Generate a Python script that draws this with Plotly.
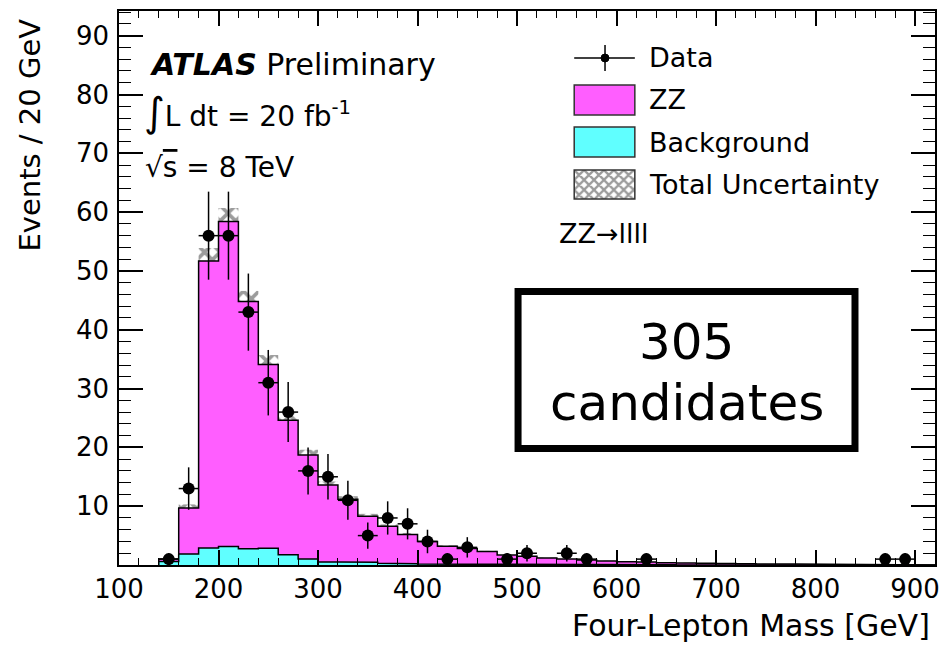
import numpy as np
import plotly.graph_objects as go

# ---------------------------------------------------------------- data
# four-lepton mass histogram, 20 GeV bins from 140 to 920 GeV
bin_low = [140, 160, 180, 200, 220, 240, 260, 280, 300, 320, 340, 360, 380,
           400, 420, 440, 460, 480, 500, 520, 540, 560, 580, 600, 620, 640,
           660, 680, 700, 720, 740, 760, 780, 800, 820, 840, 860, 880, 900]
bin_width = 20

zz_expected = [0.4, 7.85, 48.8, 55.25, 42.05, 31.25, 22.85, 17.7, 13.1, 10.7,
               7.85, 6.3, 5.0, 3.85, 3.08, 2.7, 2.22, 1.63, 1.44, 1.15, 0.95,
               0.81, 0.66, 0.52, 0.47, 0.37, 0.33, 0.28, 0.23, 0.2, 0.17, 0.15,
               0.13, 0.11, 0.09, 0.08, 0.07, 0.06, 0.05]
bkg_expected = [0.6, 1.85, 2.9, 3.15, 2.75, 2.85, 1.75, 1.0, 0.5, 0.5, 0.45,
                0.3, 0.2, 0.15, 0.12, 0.1, 0.08, 0.07, 0.06, 0.05, 0.05, 0.04,
                0.04, 0.03, 0.03, 0.03, 0.02, 0.02, 0.02, 0.02, 0.02, 0.01,
                0.01, 0.01, 0.01, 0.01, 0.01, 0.01, 0.01]
total_unc = [0.15, 0.6, 2.2, 2.3, 1.8, 1.6, 1.3, 0.9, 0.6, 0.5, 0.4, 0.3, 0.25,
             0.2, 0.15, 0.13, 0.11, 0.09, 0.08, 0.06, 0.05, 0.05, 0.04, 0.03,
             0.03, 0.03, 0.02, 0.02, 0.02, 0.02, 0.01, 0.01, 0.01, 0.01, 0.01,
             0.01, 0.01, 0.01, 0.01]

data_mass = [150, 170, 190, 210, 230, 250, 270, 290, 310, 330, 350, 370, 390,
             410, 430, 450, 490, 510, 550, 570, 630, 870, 890]
data_counts = [1, 13, 56, 56, 43, 31, 26, 16, 15, 11, 5, 8, 7, 4, 1, 3, 1, 2,
               2, 1, 1, 1, 1]

x_ticks = [100, 200, 300, 400, 500, 600, 700, 800, 900]
y_ticks = [0, 10, 20, 30, 40, 50, 60, 70, 80, 90]
y_labelled = [10, 20, 30, 40, 50, 60, 70, 80, 90]

# ---------------------------------------------------------------- style
FONT = "DejaVu Sans"
MAGENTA = "#ff5eff"
CYAN = "#60ffff"
HATCH = "#383838"
W, H = 947, 646
L, R, T, B = 119, 940, 11, 565   # frame in pixels


def px(x):
    return (x - L) / (R - L)


def py(y):
    return (B - y) / (B - T)


def stairs(lows, width, values):
    xs, ys = [lows[0]], [0.0]
    for lo, v in zip(lows, values):
        xs += [lo, lo + width]
        ys += [v, v]
    xs.append(lows[-1] + width)
    ys.append(0.0)
    return xs, ys


zz = np.array(zz_expected)
bkg = np.array(bkg_expected)
total = zz + bkg
unc = np.array(total_unc)
centers = np.array(bin_low) + bin_width / 2

fig = go.Figure()

# stacked expectation: ZZ on top of background
sx, sy = stairs(bin_low, bin_width, total)
fig.add_trace(go.Scatter(x=sx, y=sy, mode="lines", fill="tozeroy",
                         fillcolor=MAGENTA, line=dict(color="black", width=1.5),
                         hoverinfo="skip", showlegend=False))
bx, by = stairs(bin_low, bin_width, bkg)
fig.add_trace(go.Scatter(x=bx, y=by, mode="lines", fill="tozeroy",
                         fillcolor=CYAN, line=dict(color="black", width=1.5),
                         hoverinfo="skip", showlegend=False))

# total uncertainty band
fig.add_trace(go.Bar(x=centers, y=2 * unc, base=total - unc, width=bin_width,
                     marker=dict(color="rgba(0,0,0,0)", line=dict(width=0),
                                 pattern=dict(shape="x", fgcolor=HATCH,
                                              bgcolor="rgba(0,0,0,0)",
                                              size=11, solidity=0.55)),
                     hoverinfo="skip", showlegend=False))

# data points with Poisson errors
counts = np.array(data_counts, dtype=float)
fig.add_trace(go.Scatter(x=data_mass, y=counts, mode="markers",
                         marker=dict(color="black", size=12),
                         error_y=dict(type="data", array=np.sqrt(counts),
                                      color="black", thickness=1.5, width=0),
                         error_x=dict(type="constant", value=bin_width / 2,
                                      color="black", thickness=1.5, width=0),
                         showlegend=False))

# hatch swatch for the legend entry, on its own small axes
fig.add_trace(go.Bar(x=[0], y=[1], width=1, xaxis="x2", yaxis="y2",
                     marker=dict(color="rgba(0,0,0,0)", line=dict(width=0),
                                 pattern=dict(shape="x", fgcolor=HATCH,
                                              bgcolor="rgba(0,0,0,0)",
                                              size=7, solidity=0.55)),
                     hoverinfo="skip", showlegend=False))

axis_common = dict(showline=True, linecolor="black", linewidth=2,
                   mirror="allticks", ticks="inside", tickcolor="black",
                   showgrid=False, zeroline=False,
                   tickfont=dict(family=FONT, size=26, color="black"))

fig.update_layout(
    width=W, height=H,
    margin=dict(l=L, r=W - R, t=T, b=H - B, pad=0),
    paper_bgcolor="white", plot_bgcolor="white",
    barmode="overlay",
    xaxis=dict(range=[100, 920], tickmode="array", tickvals=x_ticks,
               ticklen=15, tickwidth=1.5,
               minor=dict(dtick=20, tick0=100, ticklen=7, ticks="inside",
                          tickcolor="black", tickwidth=1),
               **axis_common),
    yaxis=dict(range=[0, 94.2], tickmode="array", tickvals=y_ticks,
               showticklabels=False, ticklen=24, tickwidth=1.5,
               minor=dict(dtick=2, tick0=0, ticklen=12, ticks="inside",
                          tickcolor="black", tickwidth=1),
               **axis_common),
    xaxis2=dict(domain=[px(577), px(638)], range=[-0.5, 0.5], visible=False,
                anchor="y2"),
    yaxis2=dict(domain=[py(199), py(170)], range=[0, 1], visible=False,
                anchor="x2"),
    font=dict(family=FONT, color="black"),
)

# y tick labels, set close to the frame
for v in y_labelled:
    fig.add_annotation(text=str(v), xref="paper", yref="y", x=px(111), y=v,
                       xanchor="right", yanchor="middle", showarrow=False,
                       font=dict(family=FONT, size=26, color="black"))


def label(text, x, y, size, xanchor="left", **kw):
    fig.add_annotation(text=text, xref="paper", yref="paper", x=px(x), y=py(y),
                       xanchor=xanchor, yanchor="middle", showarrow=False,
                       font=dict(family=FONT, size=size, color="black"), **kw)


# axis titles
label("Events / 20 GeV", 29, 135, 29, xanchor="center", textangle=-90)
label("Four-Lepton Mass [GeV]", 937, 625, 30, xanchor="right")

# experiment labels
label("<b><i>ATLAS</i></b> Preliminary", 148, 64, 30)
label("<span style='font-size:40px'>∫</span>L dt = 20 fb<sup>-1</sup>",
      142, 112, 28)
label("√<span style='text-decoration:overline'>s</span> = 8 TeV", 143, 167, 28)

# legend
fig.add_shape(type="line", xref="paper", yref="paper", x0=px(577), x1=px(638),
              y0=py(58), y1=py(58), line=dict(color="black", width=1.5))
fig.add_shape(type="line", xref="paper", yref="paper", x0=px(608), x1=px(608),
              y0=py(45), y1=py(71), line=dict(color="black", width=1.5))
fig.add_shape(type="circle", xref="paper", yref="paper", x0=px(604),
              x1=px(612), y0=py(62), y1=py(54), fillcolor="black",
              line=dict(color="black", width=1))
fig.add_shape(type="rect", xref="paper", yref="paper", x0=px(577), x1=px(638),
              y0=py(115), y1=py(85), fillcolor=MAGENTA,
              line=dict(color="#333333", width=1.5))
fig.add_shape(type="rect", xref="paper", yref="paper", x0=px(577), x1=px(638),
              y0=py(157), y1=py(127), fillcolor=CYAN,
              line=dict(color="#333333", width=1.5))
fig.add_shape(type="rect", xref="paper", yref="paper", x0=px(577), x1=px(638),
              y0=py(199), y1=py(170), line=dict(color="#333333", width=1.5))
label("Data", 650, 58, 27)
label("ZZ", 650, 100, 27)
label("Background", 650, 142, 27)
label("Total Uncertainty", 650, 184, 27)
label("ZZ→llll", 560, 234, 27)

# candidate count box
fig.add_shape(type="rect", xref="paper", yref="paper", x0=px(520.5),
              x1=px(859.5), y0=py(448.5), y1=py(291.5),
              line=dict(color="black", width=7))
label("305", 690, 342, 50, xanchor="center")
label("candidates", 690, 403, 50, xanchor="center")

fig.write_html("out.html")
